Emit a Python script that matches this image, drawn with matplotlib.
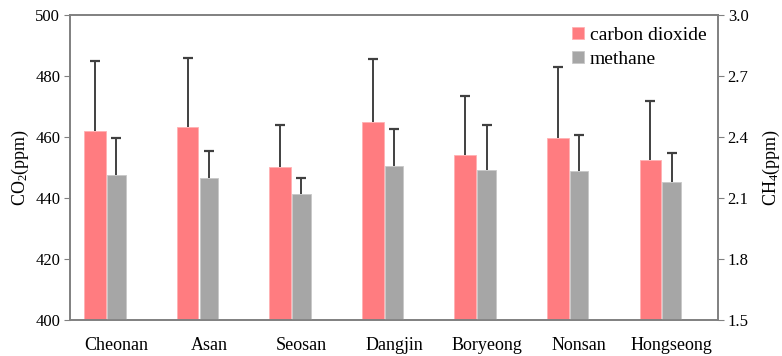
import matplotlib
matplotlib.use("Agg")
import matplotlib.pyplot as plt
import numpy as np

plt.rcParams['font.family'] = ['Liberation Serif', 'DejaVu Serif']
plt.rcParams['mathtext.fontset'] = 'custom'
plt.rcParams['mathtext.rm'] = 'Liberation Serif'
plt.rcParams['mathtext.it'] = 'Liberation Serif'

sites = ["Cheonan", "Asan", "Seosan", "Dangjin", "Boryeong", "Nonsan", "Hongseong"]
co2_mean = [461.9, 463.3, 450.2, 465.0, 454.0, 459.8, 452.6]
co2_err = [23.0, 22.6, 13.7, 20.5, 19.5, 23.2, 19.2]
ch4_mean = [2.211, 2.196, 2.118, 2.256, 2.237, 2.232, 2.178]
ch4_err = [0.183, 0.134, 0.081, 0.184, 0.222, 0.180, 0.141]

fig = plt.figure(figsize=(7.82, 3.56), dpi=100)
ax = fig.add_axes([70/782, 1-320/356, 648/782, 305/356])
ax2 = ax.twinx()

x = np.arange(len(sites))
pink = '#FF7C80'
gray = '#A6A6A6'
ecol = '#404040'

co2_m = np.array(co2_mean)
co2_top = co2_m + np.array(co2_err)
ch4_m = np.array(ch4_mean)
ch4_top = ch4_m + np.array(ch4_err)

ax.bar(x - 0.23, co2_m, width=0.235, color=pink, edgecolor='#FFB0B2', linewidth=0.6,
       label='carbon dioxide', zorder=2)
ax.vlines(x - 0.23, co2_m, co2_top, color=ecol, linewidth=1.4, zorder=1)
ax.plot(x - 0.23, co2_top, linestyle='none', marker='_', markersize=7,
        markeredgewidth=1.6, color=ecol, zorder=3)

ax2.bar(x, ch4_m, width=0.2, color=gray, edgecolor='#C8C8C8', linewidth=0.6,
        label='methane', zorder=2)
ax2.vlines(x, ch4_m, ch4_top, color=ecol, linewidth=1.4, zorder=1)
ax2.plot(x, ch4_top, linestyle='none', marker='_', markersize=7,
         markeredgewidth=1.6, color=ecol, zorder=3)

ax.set_xlim(-0.5, len(sites) - 0.5)
ax.set_ylim(400, 500)
ax.set_yticks([400, 420, 440, 460, 480, 500])
ax2.set_ylim(1.5, 3.0)
ax2.set_yticks([1.5, 1.8, 2.1, 2.4, 2.7, 3.0])
ax2.set_yticklabels(['1.5', '1.8', '2.1', '2.4', '2.7', '3.0'])

ax.set_xticks(x)
ax.set_xticklabels(sites, fontsize=13)
ax.tick_params(axis='x', length=0, pad=12)
ax.tick_params(axis='y', labelsize=12, direction='out', length=4, color='#808080', pad=3)
ax2.tick_params(axis='y', labelsize=12, direction='out', length=4, color='#808080', pad=3)

for a in (ax, ax2):
    for s in a.spines.values():
        s.set_color('#808080')
        s.set_linewidth(1.2)

ax.set_ylabel('CO$_2$(ppm)', fontsize=13, labelpad=3)
ax2.set_ylabel('CH$_4$(ppm)', fontsize=13, labelpad=9)

h1, l1 = ax.get_legend_handles_labels()
h2, l2 = ax2.get_legend_handles_labels()
leg = ax.legend(h1 + h2, l1 + l2, loc='upper right', frameon=False, fontsize=14,
                handlelength=0.6, handleheight=0.6, handletextpad=0.3,
                labelspacing=0.35, borderaxespad=0.2)

fig.savefig('out.png', dpi=100)
